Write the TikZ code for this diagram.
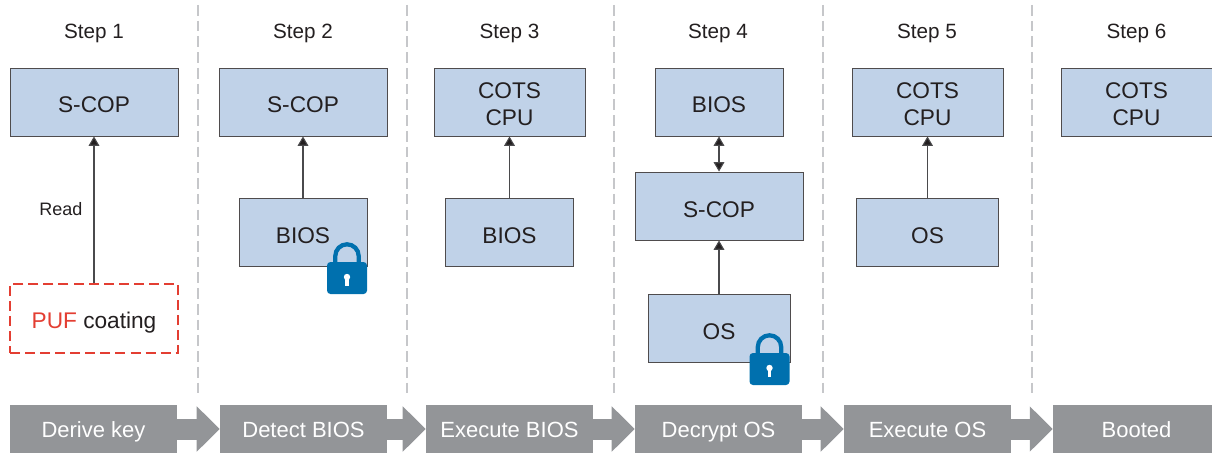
\documentclass[tikz,border=0pt]{standalone}
\usepackage{fontspec}
\setmainfont{Liberation Sans}
\usepackage{xcolor}
\usetikzlibrary{
    arrows.meta,
    calc
}
\definecolor{boxblue}{HTML}{C0D2E8}
\definecolor{lockblue}{HTML}{0070AE}
\definecolor{bargray}{HTML}{939598}
\definecolor{pufred}{HTML}{E33E32}
\definecolor{sepgray}{HTML}{C6C7CA}
\definecolor{linegray}{HTML}{4A4A4C}
\definecolor{textblack}{HTML}{231F20}
\tikzset{
    blockbox/.style={draw=textblack!80, line width=0.7pt, fill=boxblue, minimum height=51pt, inner sep=0pt, align=center, text=textblack, text height=16.5pt, text depth=0pt, font=\fontsize{17}{20.25}\selectfont, minimum width=#1*0.75pt},
    twoline/.style={text height=35pt},
    pufbox/.style={draw=pufred, line width=1.2pt, dash pattern=on 7.5pt off 3.8pt, minimum width=126pt, minimum height=51.75pt, inner sep=0pt, text=textblack, text height=15pt, text depth=0pt, font=\fontsize{17}{20.25}\selectfont},
    stagebar/.style={fill=bargray, minimum height=36pt, inner sep=0pt, text=white, text height=12pt, text depth=0pt, font=\fontsize{16.5}{20}\selectfont, minimum width=#1*0.75pt},
    steplabel/.style={text=textblack, inner sep=0pt, text height=11.5pt, text depth=0pt, font=\fontsize{15.5}{20}\selectfont},
    readlabel/.style={text=textblack, inner sep=0pt, font=\fontsize{13.5}{16}\selectfont},
    datalink/.style={draw=linegray, line width=0.8pt, -{Triangle[length=7pt,width=8pt,fill=textblack]}},
    duallink/.style={datalink, {Triangle[length=7pt,width=8pt,fill=textblack]}-{Triangle[length=7pt,width=8pt,fill=textblack]}},
    stagelink/.style={draw=bargray, line width=15.75pt, -{Triangle[length=17.25pt,width=33pt,fill=bargray]}},
    sepline/.style={draw=sepgray, line width=1.1pt, dash pattern=on 8pt off 3.8pt}
}
\newcommand{\lockicon}[2]{
    \begin{scope}[shift={(#1, #2)}]
        \draw[lockblue, line width=3.2pt] (-11.7, 1) -- (-11.7, -6) arc (180:360:11.7) -- (11.7, 1);
        \fill[lockblue, rounded corners=2.6pt] (-20, 0) rectangle (20, 32);
        \fill[white] (0, 15) circle (3.2);
        \fill[white] (-1.8, 15) rectangle (1.8, 24);
    \end{scope}
}

\begin{document}
\begin{tikzpicture}[x=0.75pt, y=-0.75pt]
    \useasboundingbox (0, 0) rectangle (1212, 453);

    % column separators
    \foreach \sepx in {198, 407, 614, 823, 1032} {
        \draw[sepline] (\sepx, 5) -- (\sepx, 398);
    }

    % step titles
    \node[steplabel] (stepa) at (94, 31) {Step 1};
    \node[steplabel] (stepb) at (303, 31) {Step 2};
    \node[steplabel] (stepc) at (509.5, 31) {Step 3};
    \node[steplabel] (stepd) at (718, 31) {Step 4};
    \node[steplabel] (stepe) at (927, 31) {Step 5};
    \node[steplabel] (stepf) at (1136.5, 31) {Step 6};

    % step 1
    \node[blockbox=168] (scopa) at (94, 102) {S-COP};
    \node[pufbox] (puf) at (94, 318.5) {\textcolor{pufred}{PUF} coating};
    \node[readlabel] (read) at (61, 209) {Read};
    \draw[datalink] (puf) -- (scopa);

    % step 2
    \node[blockbox=168] (scopb) at (303, 102) {S-COP};
    \node[blockbox=128] (biosb) at (303, 232) {BIOS};
    \draw[datalink] (biosb) -- (scopb);
    \lockicon{347}{262}

    % step 3
    \node[blockbox=151, twoline] (cotsc) at (509.5, 102) {COTS\\CPU};
    \node[blockbox=128] (biosc) at (509.5, 232) {BIOS};
    \draw[datalink] (biosc) -- (cotsc);

    % step 4
    \node[blockbox=128] (biosd) at (719, 102) {BIOS};
    \node[blockbox=168] (scopd) at (719, 206) {S-COP};
    \node[blockbox=142] (osd) at (719, 328) {OS};
    \draw[duallink] (scopd) -- (biosd);
    \draw[datalink] (osd) -- (scopd);
    \lockicon{769.5}{353}

    % step 5
    \node[blockbox=151, twoline] (cotse) at (927.5, 102) {COTS\\CPU};
    \node[blockbox=142] (ose) at (927.5, 232) {OS};
    \draw[datalink] (ose) -- (cotse);

    % step 6
    \node[blockbox=151, twoline] (cotsf) at (1136.5, 102) {COTS\\CPU};

    % stage bar
    \node[stagebar=167] (derive) at (93.5, 429) {Derive key};
    \node[stagebar=167] (detect) at (303.5, 429) {Detect BIOS};
    \node[stagebar=167] (execb) at (509.5, 429) {Execute BIOS};
    \node[stagebar=167] (decrypt) at (718.5, 429) {Decrypt OS};
    \node[stagebar=167] (execo) at (927.5, 429) {Execute OS};
    \node[stagebar=167] (booted) at (1136.5, 429) {Booted};
    \draw[stagelink] (derive) -- (detect);
    \draw[stagelink] (detect) -- (execb);
    \draw[stagelink] (execb) -- (decrypt);
    \draw[stagelink] (decrypt) -- (execo);
    \draw[stagelink] (execo) -- (booted);
\end{tikzpicture}
\end{document}
